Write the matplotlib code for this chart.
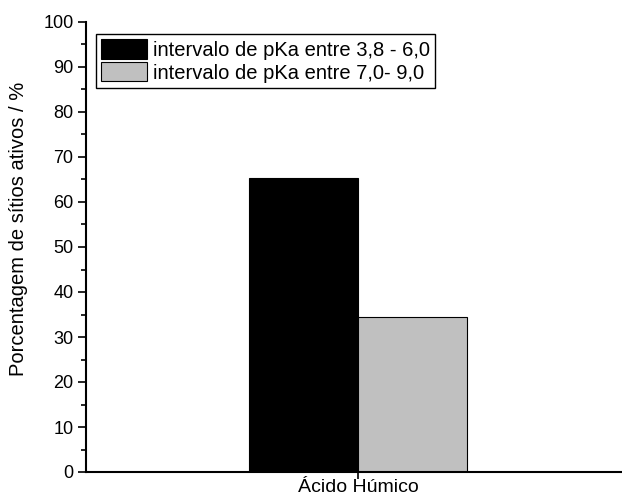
import numpy as np
import matplotlib
matplotlib.use("Agg")
import matplotlib.pyplot as plt
from matplotlib.ticker import MultipleLocator

plt.rcParams['font.family'] = ['Liberation Sans', 'DejaVu Sans']

# data
category = ["Ácido Húmico"]
labels = ["intervalo de pKa entre 3,8 - 6,0", "intervalo de pKa entre 7,0- 9,0"]
values_acid = [65.4]
values_basic = [34.5]
colors = ["#000000", "#c0c0c0"]

fig = plt.figure(figsize=(6.22, 5.0), dpi=100)
ax = fig.add_axes([86/622, 28/500, 1 - 86/622, 450/500])

x = np.arange(len(category))
w = 0.4
ax.bar(x - w/2, values_acid, w, color=colors[0], edgecolor="black", linewidth=0.8, label=labels[0])
ax.bar(x + w/2, values_basic, w, color=colors[1], edgecolor="black", linewidth=0.8, label=labels[1])

ax.set_xlim(-1.0, 0.97)
ax.set_ylim(0, 100)
ax.yaxis.set_major_locator(MultipleLocator(10))
ax.yaxis.set_minor_locator(MultipleLocator(5))
ax.set_xticks(x)
ax.set_xticklabels(category, fontsize=14)
ax.tick_params(axis="y", which="major", direction="out", length=6, width=1.2, labelsize=13, pad=3)
ax.tick_params(axis="y", which="minor", direction="out", length=3.5, width=1.2)
ax.tick_params(axis="x", which="major", direction="out", length=5, width=1.2, pad=0)

for s in ["top", "right"]:
    ax.spines[s].set_visible(False)
for s in ["left", "bottom"]:
    ax.spines[s].set_linewidth(1.5)

ax.set_ylabel("Porcentagem de sítios ativos / %", fontsize=14.5)
ax.yaxis.set_label_coords(-0.108, 0.54)

leg = ax.legend(loc="upper left", bbox_to_anchor=(0.019, 0.973), fontsize=14.5,
                frameon=True, fancybox=False, edgecolor="black", framealpha=1,
                handlelength=2.25, handleheight=1.1, handletextpad=0.3,
                borderpad=0.25, labelspacing=0.12, borderaxespad=0)
leg.get_frame().set_linewidth(1.0)

fig.savefig("out.png", dpi=100)
